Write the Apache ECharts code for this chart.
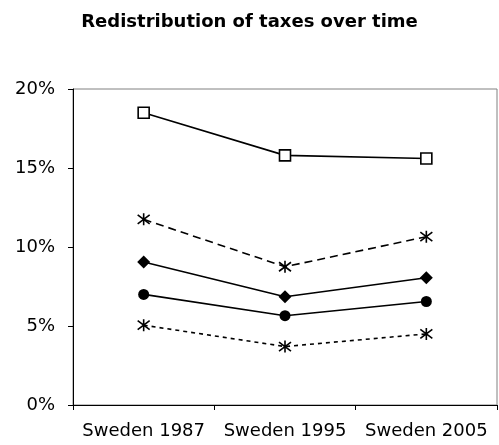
<!DOCTYPE html>
<html><head><meta charset="utf-8">
<script src="https://cdn.jsdelivr.net/npm/echarts@6/dist/echarts.min.js"></script>
<style>html,body{margin:0;padding:0;background:#fff}#c{width:499px;height:445px}</style>
</head><body><div id="c"></div>
<script>
const categories = ['Sweden 1987', 'Sweden 1995', 'Sweden 2005'];
const squareSeries = [18.5, 15.8, 15.6];
const starDashedSeries = [11.75, 8.75, 10.65];
const diamondSeries = [9.05, 6.85, 8.05];
const circleSeries = [7.0, 5.65, 6.55];
const starDottedSeries = [5.05, 3.7, 4.5];
const yTicks = [0, 5, 10, 15, 20];

const star = 'path://M0,-6L0,6M-5,-4.5L5,4.5M-5,4.5L5,-4.5';
const FONT = 'DejaVu Sans, Liberation Sans, Arial';

function mk(data, symbol, size, filled, dash) {
  return {
    type: 'line', data: data, symbol: symbol, symbolSize: size,
    lineStyle: { color: '#000', width: 1.6, type: dash || 'solid' },
    itemStyle: filled ? { color: '#000' } : { color: symbol === 'rect' ? '#fff' : 'transparent', borderColor: '#000', borderWidth: 1.6 },
    emphasis: { disabled: true }, animation: false, z: 3
  };
}

const chart = echarts.init(document.getElementById('c'), null, { renderer: 'canvas' });
chart.setOption({
  animation: false,
  title: { text: 'Redistribution of taxes over time', left: 'center', top: 8,
    textStyle: { fontFamily: FONT, fontSize: 18, fontWeight: 'bold', color: '#000' } },
  grid: { left: 73, right: 2, top: 89, bottom: 40, show: true, borderColor: '#808080', borderWidth: 1 },
  xAxis: {
    type: 'category', data: categories, boundaryGap: true,
    axisLine: { lineStyle: { color: '#000', width: 1 } },
    axisTick: { show: true, length: 5, lineStyle: { color: '#000' } },
    axisLabel: { color: '#000', fontSize: 18, fontFamily: FONT, margin: 17, interval: 0 },
    splitLine: { show: false }
  },
  yAxis: {
    type: 'value', min: yTicks[0], max: yTicks[yTicks.length - 1], interval: 5,
    axisLine: { show: true, lineStyle: { color: '#000', width: 1 } },
    axisTick: { show: true, length: 5, lineStyle: { color: '#000' } },
    axisLabel: { color: '#000', fontSize: 18, fontFamily: FONT, margin: 18, formatter: v => v + '%' },
    splitLine: { show: false }
  },
  series: [
    mk(squareSeries, 'rect', 11, false),
    mk(starDashedSeries, star, 12, false, [8, 5]),
    mk(diamondSeries, 'diamond', 13, true),
    mk(circleSeries, 'circle', 11, true),
    mk(starDottedSeries, star, 12, false, [4, 4])
  ]
});
</script></body></html>
